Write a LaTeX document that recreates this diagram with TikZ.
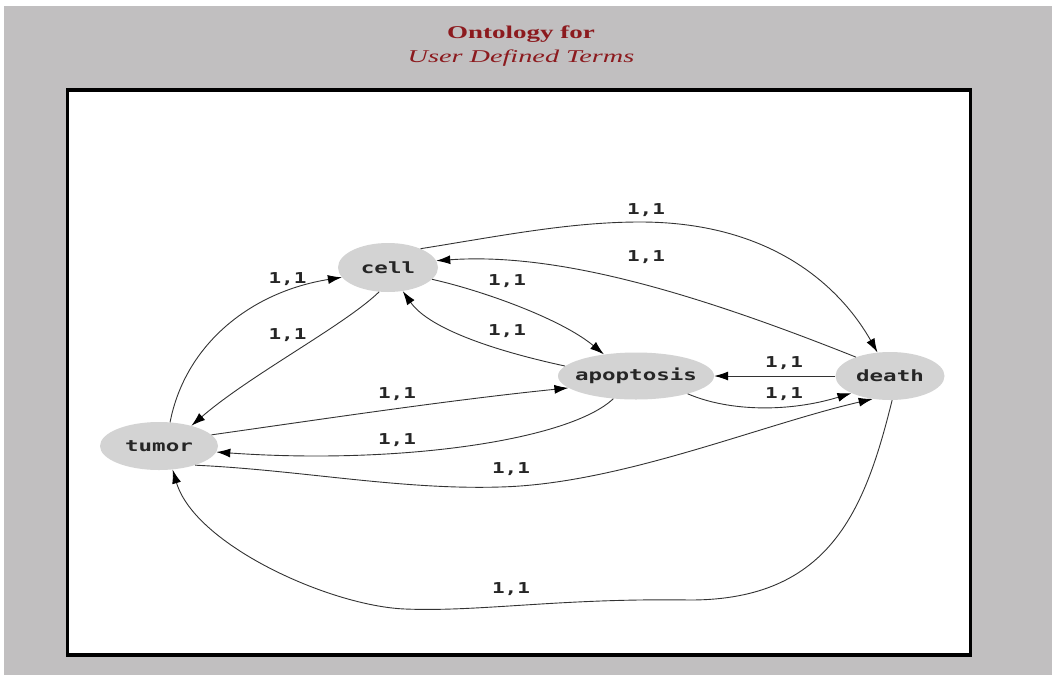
\documentclass[tikz,border=0pt]{standalone}
\usepackage{fontspec}
\usetikzlibrary{shapes.geometric,arrows.meta}
\newfontfamily\lblfont[FakeStretch=1.4]{DejaVu Sans Mono}
\newfontfamily\entfont[FakeStretch=1.45]{DejaVu Sans Mono}
\newfontfamily\ttlfont[FakeStretch=1.5]{Liberation Serif}
\newfontfamily\subttlfont[FakeStretch=1.57]{Liberation Serif}
\definecolor{bggray}{RGB}{193,191,192}
\definecolor{nodegray}{RGB}{211,211,211}
\definecolor{titlered}{RGB}{140,26,30}
\begin{document}
\begin{tikzpicture}[x=1pt,y=-1pt,
  ent/.style={ellipse, fill=nodegray, inner sep=0pt, text=black!85,
    font=\entfont\bfseries\fontsize{15.5}{16}\selectfont},
  rel/.style={draw=black!80, line width=0.9pt, -{Latex[length=14pt,width=9pt,color=black]}},
  lbl/.style={anchor=base, inner sep=0pt, text=black!85,
    font=\lblfont\bfseries\fontsize{15}{16}\selectfont}]
\useasboundingbox (0,0) rectangle (1052,675);
\fill[white] (0,0) rectangle (1052,675);
\fill[bggray] (4,6) rectangle (1052,675);
\draw[line width=3.5pt, fill=white] (67.5,90) rectangle (970.5,655);
% title
\node[anchor=base, inner sep=0pt, text=titlered, font=\ttlfont\bfseries\fontsize{18}{20}\selectfont] (t1) at (521,38) {Ontology for};
\node[anchor=base, inner sep=0pt, text=titlered, font=\subttlfont\itshape\fontsize{18}{20}\selectfont] (t2) at (521,62) {User Defined Terms};
% entities
\node[ent, minimum width=100pt, minimum height=49pt] (cell) at (388,267.5) {\makebox[0pt]{cell}};
\node[ent, minimum width=156pt, minimum height=47pt] (apop) at (636,376) {\makebox[0pt]{apoptosis}};
\node[ent, minimum width=109pt, minimum height=48pt] (death) at (890,376) {\makebox[0pt]{death}};
\node[ent, minimum width=118pt, minimum height=48pt] (tumor) at (159,446) {\makebox[0pt]{tumor}};
% relations
\draw[rel] (cell.30) .. controls (500,236) and (570,222) .. (640,222) .. controls (780,222) and (845,295) .. (death.118);
\draw[rel] (death.151) .. controls (700,295) and (560,252) .. (cell.8);
\draw[rel] (cell.-15) .. controls (480,290) and (560,318) .. (apop.146);
\draw[rel] (apop.172) .. controls (500,352) and (430,330) .. (cell.-58);
\draw[rel] (tumor.65) .. controls (185,345) and (250,292) .. (cell.192);
\draw[rel] (cell.-110) .. controls (345,325) and (250,375) .. (tumor.32);
\draw[rel] (tumor.12) .. controls (330,418) and (450,400) .. (apop.190);
\draw[rel] (apop.-135) .. controls (570,440) and (400,465) .. (tumor.-6);
\draw[rel] (death.180) -- (apop.0);
\draw[rel] (apop.-19) .. controls (730,412) and (790,412) .. (death.204);
\draw[rel] (tumor.-28) .. controls (300,470) and (400,490) .. (500,487) .. controls (620,484) and (760,425) .. (death.-127);
\draw[rel] (death.-85) .. controls (865,510) and (830,600) .. (690,600) .. controls (560,598) and (480,612) .. (405,609) .. controls (330,606) and (195,545) .. (tumor.-60);
% labels
\node[lbl] (l1) at (646,214) {1,1};
\node[lbl] (l2) at (646,261) {1,1};
\node[lbl] (l3) at (507,285) {1,1};
\node[lbl] (l4) at (507,335) {1,1};
\node[lbl] (l5) at (287.5,283) {1,1};
\node[lbl] (l6) at (287.5,339) {1,1};
\node[lbl] (l7) at (397,398) {1,1};
\node[lbl] (l8) at (397,444) {1,1};
\node[lbl] (l9) at (784,367) {1,1};
\node[lbl] (l10) at (784,398) {1,1};
\node[lbl] (l11) at (511,473.5) {1,1};
\node[lbl] (l12) at (511,593.5) {1,1};
\end{tikzpicture}
\end{document}
